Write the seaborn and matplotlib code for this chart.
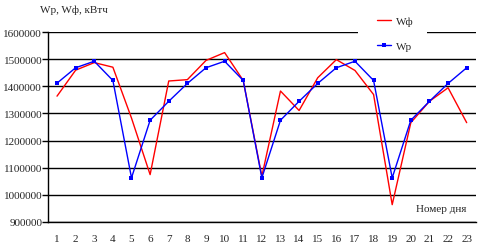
import matplotlib
matplotlib.use("Agg")
import matplotlib.pyplot as plt
import seaborn as sns
import pandas as pd
from matplotlib.patches import Rectangle
from matplotlib.ticker import FixedLocator, FuncFormatter

days = list(range(1, 24))
wp = [1412000, 1469000, 1493000, 1422000, 1062000, 1275000, 1345000,
      1411000, 1469000, 1493000, 1422000, 1062000, 1275000, 1345000,
      1411000, 1469000, 1493000, 1422000, 1062000, 1275000, 1345000,
      1411000, 1469000]
wf = [1364000, 1460000, 1488000, 1471000, 1283000, 1074000, 1420000,
      1425000, 1496000, 1525000, 1422000, 1068000, 1383000, 1311000,
      1432000, 1499000, 1459000, 1370000, 963000, 1266000, 1345000,
      1395000, 1266000]
y_ticks = [900000, 1000000, 1100000, 1200000, 1300000, 1400000, 1500000, 1600000]
title_text = "Wp, Wф, кВтч"
xlabel_text = "Номер дня"
label_wf = "Wф"
label_wp = "Wp"

sns.set_style("white")
plt.rcParams['font.family'] = ['Liberation Serif', 'DejaVu Serif']
plt.rcParams['font.size'] = 8

W, H = 479, 251
fig = plt.figure(figsize=(W / 100, H / 100), dpi=100)
ax = fig.add_axes([47.7 / W, 1 - 222.7 / H, (476 - 47.7) / W, (222.7 - 33.3) / H])

df = pd.DataFrame({"day": days, "Wf": wf, "Wp": wp})
sns.lineplot(data=df, x="day", y="Wf", ax=ax, color="#ff0000", linewidth=1.0,
             label=label_wf, legend=False, zorder=3)
sns.lineplot(data=df, x="day", y="Wp", ax=ax, color="#0000ff", linewidth=1.0,
             marker="s", markersize=2.8, markeredgewidth=0, label=label_wp,
             legend=False, zorder=4)

ax.set_xlim(0.5, 23.5)
ax.set_ylim(900000, 1600000)
ax.set_yticks(y_ticks)
ax.yaxis.set_major_formatter(FuncFormatter(lambda v, p: f"{int(v)}"))
ax.grid(axis="y", color="black", linewidth=1.0)
ax.set_axisbelow(True)

ax.set_xticks(days)
ax.set_xticklabels([str(d) for d in days])
ax.xaxis.set_minor_locator(FixedLocator([d - 0.5 for d in days] + [23.5]))
ax.tick_params(axis="x", which="major", length=0, pad=9, labelsize=8)
ax.tick_params(axis="x", which="minor", length=4, width=1, color="black", direction="out")
ax.tick_params(axis="y", which="major", length=4, width=1, color="black",
               direction="out", left=True, labelsize=8, pad=0)

for s in ["top", "right"]:
    ax.spines[s].set_visible(False)
for s in ["left", "bottom"]:
    ax.spines[s].set_color("black")
    ax.spines[s].set_linewidth(1.0)

ax.set_xlabel("")
ax.set_ylabel("")

fig.text(40 / W, 1 - 10 / H, title_text, ha="left", va="center", fontsize=8)
fig.text(466 / W, 1 - 210 / H, xlabel_text, ha="right", va="center", fontsize=8)

# legend background
fig.patches.append(Rectangle((358 / W, 1 - 56 / H), 69 / W, 42 / H,
                             transform=fig.transFigure, facecolor="white",
                             edgecolor="none", zorder=5))
handles, labels = ax.get_legend_handles_labels()
leg = fig.legend(handles, labels, loc="upper left",
                 bbox_to_anchor=(377 / W, 1 - 17 / H), frameon=False,
                 fontsize=8, handlelength=1.3, handletextpad=0.4,
                 labelspacing=1.4, borderpad=0, borderaxespad=0)
leg.set_zorder(6)

fig.savefig("out.png", dpi=100)
